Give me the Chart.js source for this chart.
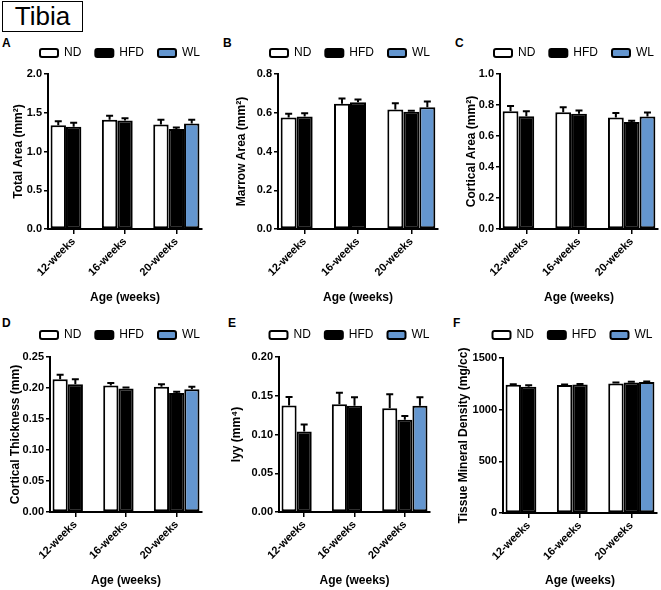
<!DOCTYPE html>
<html>
<head>
<meta charset="utf-8">
<script src="https://cdn.jsdelivr.net/npm/chart.js@4.4.1/dist/chart.umd.min.js"></script>
<style>
  html, body { margin: 0; padding: 0; background: #fff; }
  #page { position: relative; width: 661px; height: 590px; overflow: hidden; background: #fff; }
  canvas { position: absolute; }
  .letter { position: absolute; font: bold 12px "Liberation Sans", Arial, sans-serif; color: #000; line-height: 14px; }
  #tibia { position: absolute; left: 2px; top: 1px; width: 79px; height: 29px; border: 1px solid #000;
           font: 26px "Liberation Sans", Arial, sans-serif; line-height: 29px; padding-left: 0; text-align: center; color: #000; }
</style>
</head>
<body>
<div id="page">
  <div id="tibia">Tibia</div>
  <div class="letter" style="left:2px;top:36px">A</div>
  <div class="letter" style="left:223px;top:36px">B</div>
  <div class="letter" style="left:455px;top:36px">C</div>
  <div class="letter" style="left:2px;top:316px">D</div>
  <div class="letter" style="left:228px;top:316px">E</div>
  <div class="letter" style="left:453px;top:316px">F</div>
</div>
<script>
// ---------- DATA ----------
const categories = ['12-weeks', '16-weeks', '20-weeks'];
const seriesNames = ['ND', 'HFD', 'WL'];
const xAxisTitle = 'Age (weeks)';

// A: Total Area
const totalAreaND  = [1.34, 1.41, 1.35];
const totalAreaHFD = [1.32, 1.40, 1.29];
const totalAreaWL  = [null, null, 1.36];
const totalAreaNDErr  = [0.05, 0.05, 0.06];
const totalAreaHFDErr = [0.05, 0.03, 0.02];
const totalAreaWLErr  = [null, null, 0.05];
const totalAreaTicks = [0, 0.5, 1.0, 1.5, 2.0];

// B: Marrow Area
const marrowAreaND  = [0.575, 0.646, 0.617];
const marrowAreaHFD = [0.581, 0.654, 0.605];
const marrowAreaWL  = [null, null, 0.629];
const marrowAreaNDErr  = [0.020, 0.027, 0.032];
const marrowAreaHFDErr = [0.017, 0.015, 0.005];
const marrowAreaWLErr  = [null, null, 0.029];
const marrowAreaTicks = [0, 0.2, 0.4, 0.6, 0.8];

// C: Cortical Area
const corticalAreaND  = [0.760, 0.754, 0.720];
const corticalAreaHFD = [0.728, 0.743, 0.690];
const corticalAreaWL  = [null, null, 0.726];
const corticalAreaNDErr  = [0.034, 0.032, 0.028];
const corticalAreaHFDErr = [0.032, 0.022, 0.008];
const corticalAreaWLErr  = [null, null, 0.026];
const corticalAreaTicks = [0, 0.2, 0.4, 0.6, 0.8, 1.0];

// D: Cortical Thickness
const thicknessND  = [0.214, 0.204, 0.202];
const thicknessHFD = [0.206, 0.199, 0.192];
const thicknessWL  = [null, null, 0.198];
const thicknessNDErr  = [0.0075, 0.004, 0.004];
const thicknessHFDErr = [0.008, 0.002, 0.002];
const thicknessWLErr  = [null, null, 0.004];
const thicknessTicks = [0, 0.05, 0.10, 0.15, 0.20, 0.25];

// E: Iyy
const iyyND  = [0.1375, 0.139, 0.134];
const iyyHFD = [0.104, 0.137, 0.119];
const iyyWL  = [null, null, 0.137];
const iyyNDErr  = [0.011, 0.015, 0.018];
const iyyHFDErr = [0.009, 0.011, 0.005];
const iyyWLErr  = [null, null, 0.011];
const iyyTicks = [0, 0.05, 0.10, 0.15, 0.20];

// F: Tissue Mineral Density
const tmdND  = [1241, 1238, 1254];
const tmdHFD = [1222, 1244, 1264];
const tmdWL  = [null, null, 1267];
const tmdNDErr  = [6, 5, 8];
const tmdHFDErr = [14, 5, 5];
const tmdWLErr  = [null, null, 5];
const tmdTicks = [0, 500, 1000, 1500];

// ---------- STYLE / LAYOUT ----------
const FONT = '"Liberation Sans", Arial, sans-serif';
const seriesFill = ['#ffffff', '#000000', '#6496cf'];

const panels = [
  { title: 'Total Area (mm²)', data: [totalAreaND, totalAreaHFD, totalAreaWL], err: [totalAreaNDErr, totalAreaHFDErr, totalAreaWLErr], ticks: totalAreaTicks, dec: 1,
    L: 7, T: 33, W: 226, H: 273, axisX: 48, right: 202, top: 74, bottom: 229, yTitleX: 19, xTitleY: 298 },
  { title: 'Marrow Area (mm²)', data: [marrowAreaND, marrowAreaHFD, marrowAreaWL], err: [marrowAreaNDErr, marrowAreaHFDErr, marrowAreaWLErr], ticks: marrowAreaTicks, dec: 1,
    L: 230, T: 33, W: 240, H: 273, axisX: 278, right: 438, top: 74, bottom: 229, yTitleX: 242, xTitleY: 298 },
  { title: 'Cortical Area (mm²)', data: [corticalAreaND, corticalAreaHFD, corticalAreaWL], err: [corticalAreaNDErr, corticalAreaHFDErr, corticalAreaWLErr], ticks: corticalAreaTicks, dec: 1,
    L: 460, T: 33, W: 228, H: 273, axisX: 500, right: 658, top: 74, bottom: 229, yTitleX: 472, xTitleY: 298 },
  { title: 'Cortical Thickness (mm)', data: [thicknessND, thicknessHFD, thicknessWL], err: [thicknessNDErr, thicknessHFDErr, thicknessWLErr], ticks: thicknessTicks, dec: 2,
    L: 4, T: 315, W: 232, H: 274, axisX: 50, right: 202, top: 357, bottom: 512, yTitleX: 15.5, xTitleY: 581 },
  { title: 'Iyy (mm⁴)', data: [iyyND, iyyHFD, iyyWL], err: [iyyNDErr, iyyHFDErr, iyyWLErr], ticks: iyyTicks, dec: 2,
    L: 225, T: 315, W: 249, H: 274, axisX: 279, right: 430, top: 357, bottom: 512, yTitleX: 237, xTitleY: 581 },
  { title: 'Tissue Mineral Density (mg/cc)', data: [tmdND, tmdHFD, tmdWL], err: [tmdNDErr, tmdHFDErr, tmdWLErr], ticks: tmdTicks, dec: 0,
    L: 453, T: 315, W: 239, H: 274, axisX: 503, right: 657, top: 358, bottom: 513, yTitleX: 464, xTitleY: 581 }
];

const LEGEND_H = 36; // 12 (item) + 14 (padding) + 10

const errorBars = {
  id: 'errorBars',
  afterDatasetsDraw(chart) {
    const ctx = chart.ctx;
    const ys = chart.scales.y;
    chart.data.datasets.forEach((ds, di) => {
      const meta = chart.getDatasetMeta(di);
      meta.data.forEach((bar, i) => {
        const v = ds.data[i], e = ds.errors[i];
        if (v == null || e == null) return;
        const x = bar.x;
        const y0 = ys.getPixelForValue(v);
        const y1 = ys.getPixelForValue(v + e);
        ctx.save();
        ctx.strokeStyle = '#000';
        ctx.lineWidth = 2;
        ctx.beginPath();
        ctx.moveTo(x, y0); ctx.lineTo(x, y1);
        ctx.moveTo(x - 3.5, y1); ctx.lineTo(x + 3.5, y1);
        ctx.stroke();
        ctx.restore();
      });
    });
  }
};

const page = document.getElementById('page');
panels.forEach(p => {
  const c = document.createElement('canvas');
  c.width = p.W; c.height = p.H;
  c.style.left = p.L + 'px'; c.style.top = p.T + 'px';
  c.style.width = p.W + 'px'; c.style.height = p.H + 'px';
  page.appendChild(c);

  const yW = p.axisX - p.L;
  const rW = p.L + p.W - p.right;
  const topH = p.top - (p.T + LEGEND_H);
  const xH = p.T + p.H - p.bottom;
  const tMin = p.ticks[0], tMax = p.ticks[p.ticks.length - 1];

  new Chart(c, {
    type: 'bar',
    data: {
      labels: categories,
      datasets: seriesNames.map((name, i) => ({
        label: name,
        data: p.data[i],
        errors: p.err[i],
        backgroundColor: seriesFill[i],
        borderColor: '#000',
        borderWidth: 2,
        borderSkipped: false,
        xAxisID: 'x',
        yAxisID: 'y',
        categoryPercentage: 0.9,
        barPercentage: 1.0
      }))
    },
    options: {
      responsive: false,
      animation: false,
      devicePixelRatio: 1,
      layout: { padding: 0 },
      plugins: {
        tooltip: { enabled: false },
        legend: {
          display: true,
          position: 'top',
          align: 'center',
          labels: {
            boxWidth: 18, boxHeight: 8, padding: 14, color: '#000',
            useBorderRadius: true, borderRadius: 2,
            font: { family: FONT, size: 12 }
          }
        }
      },
      scales: {
        x: {
          type: 'category',
          position: 'bottom',
          offset: true,
          grid: { display: true, offset: false, drawOnChartArea: false, drawTicks: true, tickLength: 5, color: '#000', lineWidth: 1.5 },
          border: { display: true, color: '#000', width: 2 },
          ticks: { minRotation: 45, maxRotation: 45, padding: 1, color: '#000', font: { family: FONT, size: 11, weight: 'bold' } },
          title: { display: true, text: xAxisTitle, color: '#000', font: { family: FONT, size: 12, weight: 'bold' },
                   padding: { top: 0, bottom: p.T + p.H - p.xTitleY - 7.2 } },
          afterFit(s) { s.height = xH; }
        },
        y: {
          type: 'linear',
          position: 'left',
          min: tMin, max: tMax,
          afterBuildTicks(s) { s.ticks = p.ticks.map(v => ({ value: v })); },
          grid: { display: true, drawOnChartArea: false, drawTicks: true, tickLength: 4, color: '#000', lineWidth: 1.5 },
          border: { display: true, color: '#000', width: 2 },
          ticks: { padding: 2, color: '#000', font: { family: FONT, size: 11, weight: 'bold' },
                   callback: v => Number(v).toFixed(p.dec) },
          title: { display: true, text: p.title, color: '#000', font: { family: FONT, size: 12, weight: 'bold' },
                   padding: { top: p.yTitleX - p.L - 7.2, bottom: 0 } },
          afterFit(s) { s.width = yW; }
        },
        padTop: {
          type: 'linear', position: 'top', display: true,
          grid: { display: false }, border: { display: false }, ticks: { display: false },
          afterFit(s) { s.height = topH; }
        },
        padRight: {
          type: 'linear', position: 'right', display: true,
          grid: { display: false }, border: { display: false }, ticks: { display: false },
          afterFit(s) { s.width = rW; }
        }
      }
    },
    plugins: [errorBars]
  });
});
</script>
</body>
</html>
